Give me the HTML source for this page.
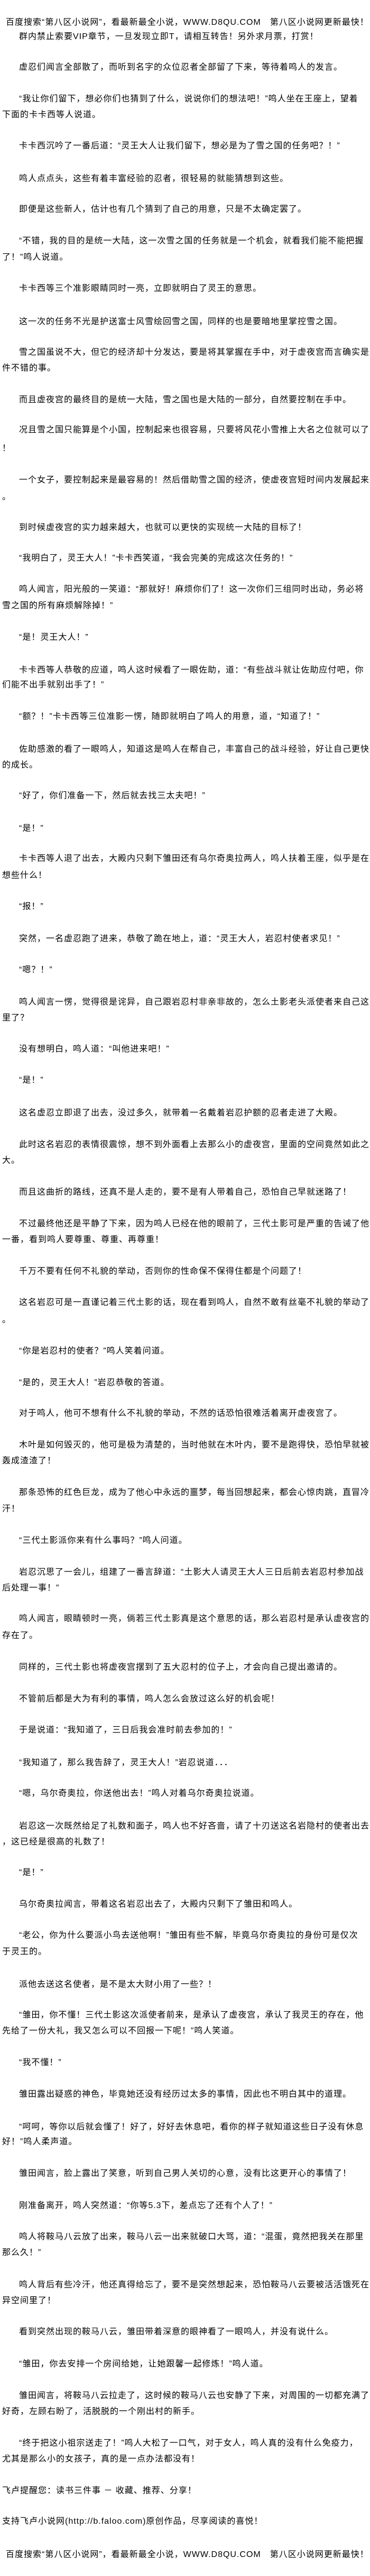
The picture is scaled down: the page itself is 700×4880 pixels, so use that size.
<!DOCTYPE html>
<html><head><meta charset="utf-8">
<style>
html,body{margin:0;padding:0;background:#fff;}
body{width:700px;height:4880px;position:relative;overflow:hidden;
font-family:"Liberation Sans","Noto Sans CJK SC","WenQuanYi Zen Hei",sans-serif;
font-size:16px;letter-spacing:1px;color:#000;}
div{position:absolute;white-space:nowrap;height:30px;line-height:30px;}
.i{left:36px;}
.l{left:4px;}
.h{left:11px;}
</style></head><body>
<div class="h" style="top:28px">百度搜索“第八区小说网”，看最新最全小说，WWW.D8QU.COM　第八区小说网更新最快！</div>
<div class="i" style="top:55px">群内禁止索要VIP章节，一旦发现立即T，请相互转告！另外求月票，打赏！</div>

<div class="i" style="top:113px">虚忍们闻言全部散了，而听到名字的众位忍者全部留了下来，等待着鸣人的发言。</div>
<div class="i" style="top:173px">“我让你们留下，想必你们也猜到了什么，说说你们的想法吧！”鸣人坐在王座上，望着</div>
<div class="l" style="top:203px">下面的卡卡西等人说道。</div>
<div class="i" style="top:262px">卡卡西沉吟了一番后道：“灵王大人让我们留下，想必是为了雪之国的任务吧？！”</div>
<div class="i" style="top:324px">鸣人点点头，这些有着丰富经验的忍者，很轻易的就能猜想到这些。</div>
<div class="i" style="top:382px">即便是这些新人，估计也有几个猜到了自己的用意，只是不太确定罢了。</div>
<div class="i" style="top:442px">“不错，我的目的是统一大陆，这一次雪之国的任务就是一个机会，就看我们能不能把握</div>
<div class="l" style="top:473px">了！”鸣人说道。</div>
<div class="i" style="top:532px">卡卡西等三个准影眼睛同时一亮，立即就明白了灵王的意思。</div>
<div class="i" style="top:595px">这一次的任务不光是护送富士风雪绘回雪之国，同样的也是要暗地里掌控雪之国。</div>
<div class="i" style="top:653px">雪之国虽说不大，但它的经济却十分发达，要是将其掌握在手中，对于虚夜宫而言确实是</div>
<div class="l" style="top:683px">件不错的事。</div>
<div class="i" style="top:743px">而且虚夜宫的最终目的是统一大陆，雪之国也是大陆的一部分，自然要控制在手中。</div>
<div class="i" style="top:800px">况且雪之国只能算是个小国，控制起来也很容易，只要将风花小雪推上大名之位就可以了</div>
<div class="l" style="top:835px">！</div>
<div class="i" style="top:895px">一个女子，要控制起来是最容易的！然后借助雪之国的经济，使虚夜宫短时间内发展起来</div>
<div class="l" style="top:927px">。</div>
<div class="i" style="top:985px">到时候虚夜宫的实力越来越大，也就可以更快的实现统一大陆的目标了！</div>
<div class="i" style="top:1043px">“我明白了，灵王大人！”卡卡西笑道，“我会完美的完成这次任务的！”</div>
<div class="i" style="top:1102px">鸣人闻言，阳光般的一笑道：“那就好！麻烦你们了！这一次你们三组同时出动，务必将</div>
<div class="l" style="top:1133px">雪之国的所有麻烦解除掉！”</div>
<div class="i" style="top:1193px">“是！灵王大人！”</div>
<div class="i" style="top:1255px">卡卡西等人恭敬的应道，鸣人这时候看了一眼佐助，道：“有些战斗就让佐助应付吧，你</div>
<div class="l" style="top:1283px">们能不出手就别出手了！”</div>
<div class="i" style="top:1343px">“额？！”卡卡西等三位准影一愣，随即就明白了鸣人的用意，道，“知道了！”</div>
<div class="i" style="top:1405px">佐助感激的看了一眼鸣人，知道这是鸣人在帮自己，丰富自己的战斗经验，好让自己更快</div>
<div class="l" style="top:1435px">的成长。</div>
<div class="i" style="top:1493px">“好了，你们准备一下，然后就去找三太夫吧！”</div>
<div class="i" style="top:1555px">“是！”</div>
<div class="i" style="top:1612px">卡卡西等人退了出去，大殿内只剩下雏田还有乌尔奇奥拉两人，鸣人扶着王座，似乎是在</div>
<div class="l" style="top:1644px">想些什么！</div>
<div class="i" style="top:1703px">“报！”</div>
<div class="i" style="top:1764px">突然，一名虚忍跑了进来，恭敬了跪在地上，道：“灵王大人，岩忍村使者求见！”</div>
<div class="i" style="top:1823px">“嗯？！”</div>
<div class="i" style="top:1884px">鸣人闻言一愣，觉得很是诧异，自己跟岩忍村非亲非故的，怎么土影老头派使者来自己这</div>
<div class="l" style="top:1914px">里了？</div>
<div class="i" style="top:1973px">没有想明白，鸣人道：“叫他进来吧！”</div>
<div class="i" style="top:2032px">“是！”</div>
<div class="i" style="top:2094px">这名虚忍立即退了出去，没过多久，就带着一名戴着岩忍护额的忍者走进了大殿。</div>
<div class="i" style="top:2154px">此时这名岩忍的表情很震惊，想不到外面看上去那么小的虚夜宫，里面的空间竟然如此之</div>
<div class="l" style="top:2184px">大。</div>
<div class="i" style="top:2244px">而且这曲折的路线，还真不是人走的，要不是有人带着自己，恐怕自己早就迷路了！</div>
<div class="i" style="top:2304px">不过最终他还是平静了下来，因为鸣人已经在他的眼前了，三代土影可是严重的告诫了他</div>
<div class="l" style="top:2334px">一番，看到鸣人要尊重、尊重、再尊重！</div>
<div class="i" style="top:2394px">千万不要有任何不礼貌的举动，否则你的性命保不保得住都是个问题了！</div>
<div class="i" style="top:2453px">这名岩忍可是一直谨记着三代土影的话，现在看到鸣人，自然不敢有丝毫不礼貌的举动了</div>
<div class="l" style="top:2486px">。</div>
<div class="i" style="top:2545px">“你是岩忍村的使者？”鸣人笑着问道。</div>
<div class="i" style="top:2605px">“是的，灵王大人！”岩忍恭敬的答道。</div>
<div class="i" style="top:2663px">对于鸣人，他可不想有什么不礼貌的举动，不然的话恐怕很难活着离开虚夜宫了。</div>
<div class="i" style="top:2723px">木叶是如何毁灭的，他可是极为清楚的，当时他就在木叶内，要不是跑得快，恐怕早就被</div>
<div class="l" style="top:2753px">轰成渣渣了！</div>
<div class="i" style="top:2813px">那条恐怖的红色巨龙，成为了他心中永远的噩梦，每当回想起来，都会心惊肉跳，直冒冷</div>
<div class="l" style="top:2844px">汗！</div>
<div class="i" style="top:2904px">“三代土影派你来有什么事吗？”鸣人问道。</div>
<div class="i" style="top:2964px">岩忍沉思了一会儿，组建了一番言辞道：“土影大人请灵王大人三日后前去岩忍村参加战</div>
<div class="l" style="top:2994px">后处理一事！”</div>
<div class="i" style="top:3052px">鸣人闻言，眼睛顿时一亮，倘若三代土影真是这个意思的话，那么岩忍村是承认虚夜宫的</div>
<div class="l" style="top:3084px">存在了。</div>
<div class="i" style="top:3144px">同样的，三代土影也将虚夜宫摆到了五大忍村的位子上，才会向自己提出邀请的。</div>
<div class="i" style="top:3204px">不管前后都是大为有利的事情，鸣人怎么会放过这么好的机会呢！</div>
<div class="i" style="top:3263px">于是说道：“我知道了，三日后我会准时前去参加的！”</div>
<div class="i" style="top:3325px">“我知道了，那么我告辞了，灵王大人！”岩忍说道．．．</div>
<div class="i" style="top:3383px">“嗯，乌尔奇奥拉，你送他出去！”鸣人对着乌尔奇奥拉说道。</div>
<div class="i" style="top:3445px">岩忍这一次既然给足了礼数和面子，鸣人也不好吝啬，请了十刃送这名岩隐村的使者出去</div>
<div class="l" style="top:3475px">，这已经是很高的礼数了！</div>
<div class="i" style="top:3533px">“是！”</div>
<div class="i" style="top:3593px">乌尔奇奥拉闻言，带着这名岩忍出去了，大殿内只剩下了雏田和鸣人。</div>
<div class="i" style="top:3652px">“老公，你为什么要派小鸟去送他啊！”雏田有些不解，毕竟乌尔奇奥拉的身份可是仅次</div>
<div class="l" style="top:3683px">于灵王的。</div>
<div class="i" style="top:3745px">派他去送这名使者，是不是太大财小用了一些？！</div>
<div class="i" style="top:3803px">“雏田，你不懂！三代土影这次派使者前来，是承认了虚夜宫，承认了我灵王的存在，他</div>
<div class="l" style="top:3833px">先给了一份大礼，我又怎么可以不回报一下呢！”鸣人笑道。</div>
<div class="i" style="top:3893px">“我不懂！”</div>
<div class="i" style="top:3953px">雏田露出疑惑的神色，毕竟她还没有经历过太多的事情，因此也不明白其中的道理。</div>
<div class="i" style="top:4015px">“呵呵，等你以后就会懂了！好了，好好去休息吧，看你的样子就知道这些日子没有休息</div>
<div class="l" style="top:4043px">好！”鸣人柔声道。</div>
<div class="i" style="top:4103px">雏田闻言，脸上露出了笑意，听到自己男人关切的心意，没有比这更开心的事情了！</div>
<div class="i" style="top:4164px">刚准备离开，鸣人突然道：“你等5.3下，差点忘了还有个人了！”</div>
<div class="i" style="top:4223px">鸣人将鞍马八云放了出来，鞍马八云一出来就破口大骂，道：“混蛋，竟然把我关在那里</div>
<div class="l" style="top:4253px">那么久！”</div>
<div class="i" style="top:4314px">鸣人背后有些冷汗，他还真得给忘了，要不是突然想起来，恐怕鞍马八云要被活活饿死在</div>
<div class="l" style="top:4344px">异空间里了！</div>
<div class="i" style="top:4403px">看到突然出现的鞍马八云，雏田带着深意的眼神看了一眼鸣人，并没有说什么。</div>
<div class="i" style="top:4464px">“雏田，你去安排一个房间给她，让她跟馨一起修炼！”鸣人道。</div>
<div class="i" style="top:4524px">雏田闻言，将鞍马八云拉走了，这时候的鞍马八云也安静了下来，对周围的一切都充满了</div>
<div class="l" style="top:4554px">好奇，左顾右盼了，活脱脱的一个刚出村的新手。</div>
<div class="i" style="top:4614px">“终于把这小祖宗送走了！”鸣人大松了一口气，对于女人，鸣人真的没有什么免疫力，</div>
<div class="l" style="top:4644px">尤其是那么小的女孩子，真的是一点办法都没有！</div>
<div class="l" style="top:4704px">飞卢提醒您：读书三件事 － 收藏、推荐、分享！</div>
<div class="l" style="top:4762px">支持飞卢小说网(http://b.faloo.com)原创作品，尽享阅读的喜悦！</div>
<div class="h" style="top:4825px">百度搜索“第八区小说网”，看最新最全小说，WWW.D8QU.COM　第八区小说网更新最快！</div>
</body></html>
